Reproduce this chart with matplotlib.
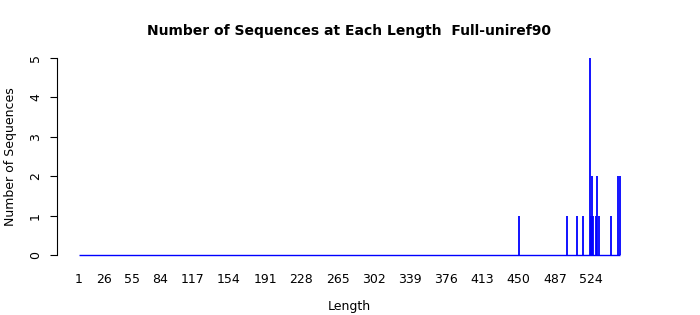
import numpy as np
import matplotlib
matplotlib.use("Agg")
import matplotlib.pyplot as plt

# Non-zero counts
seq_lengths = [450, 499, 510, 516, 523, 524, 525, 526, 529, 530, 532, 544, 551, 553]
seq_counts = [1, 1, 1, 1, 5, 1, 2, 1, 1, 2, 1, 1, 2, 2]
max_length = 553
tick_labels = [1, 26, 55, 84, 117, 154, 191, 228, 265, 302, 339, 376, 413, 450, 487, 524]

# full vector of counts, one per length, zeros where nothing was seen
lengths = np.arange(1, max_length + 1)
counts = np.zeros(max_length)
for n, c in zip(seq_lengths, seq_counts):
    counts[n - 1] = c

fig = plt.figure(figsize=(7, 3.15), dpi=100)
ax = fig.add_axes([0.082, 0.165, 0.834, 0.676])

# spikes plus the zero baseline
ax.vlines(lengths, 0, counts, color="#0000ff", lw=1.3)
ax.hlines(0, lengths[0], lengths[-1], color="#0000ff", lw=1)

span = max_length - 1
ax.set_xlim(1 - 0.04 * span, max_length + 0.04 * span)
ax.set_ylim(-0.2, 5.2)

# R style: detached left axis only
for s in ["top", "right", "bottom"]:
    ax.spines[s].set_visible(False)
ax.spines["left"].set_bounds(0, 5)
ax.set_yticks(range(6))
ax.set_yticklabels([str(i) for i in range(6)], rotation=90, va="center", fontsize=9)
ax.tick_params(axis="y", length=5, pad=6)

ax.set_xticks(tick_labels)
ax.set_xticklabels([str(t) for t in tick_labels], fontsize=9)
ax.tick_params(axis="x", length=0, pad=7)

ax.set_xlabel("Length", fontsize=9, labelpad=10)
ax.set_ylabel("Number of Sequences", fontsize=9, labelpad=9)
ax.set_title("Number of Sequences at Each Length  Full-uniref90",
             fontsize=10, fontweight="bold", pad=11)

fig.savefig("out.png", dpi=100)
